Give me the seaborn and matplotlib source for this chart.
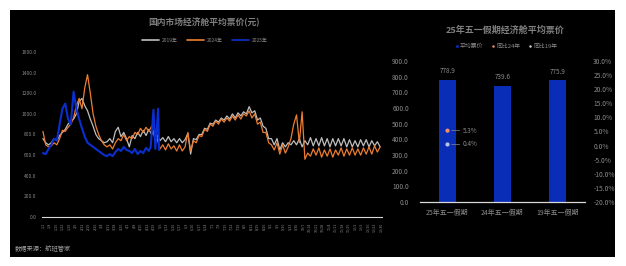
import numpy as np
import pandas as pd
import matplotlib
matplotlib.use('Agg')
import matplotlib.pyplot as plt
import seaborn as sns
from matplotlib.patches import Rectangle, Patch
from matplotlib.lines import Line2D

# ---------------- data ----------------
days = list(range(0, 366, 3))  # day of year, every 3 days

price_2019 = [760, 720, 700, 720, 760, 740, 790, 820, 850, 900,
              930, 950, 1000, 1120, 1150, 1080, 1030, 950, 880, 800,
              760, 740, 720, 730, 760, 720, 830, 870, 780, 820,
              760, 680, 790, 760, 820, 780, 840, 790, 850, 800,
              840, 790, 740, 770, 730, 780, 730, 760, 720, 760,
              720, 750, 810, 610, 760, 750, 800, 800, 860, 850,
              910, 900, 940, 920, 960, 940, 980, 950, 1000, 960,
              1010, 980, 1020, 1000, 1070, 1010, 1030, 940, 960, 880,
              860, 760, 760, 700, 760, 650, 720, 680, 720, 700,
              740, 700, 760, 680, 740, 700, 770, 690, 760, 690,
              770, 690, 760, 680, 760, 690, 760, 690, 760, 680,
              750, 680, 740, 680, 750, 690, 750, 680, 740, 690,
              730, 680]

price_2024 = [830, 700, 680, 690, 720, 700, 760, 840, 830, 870,
              900, 960, 1080, 1150, 1050, 1250, 1380, 1200, 1000, 880,
              800, 740, 700, 680, 700, 660, 720, 760, 740, 800,
              740, 780, 760, 820, 800, 860, 820, 870, 830, 880,
              780, 760, 660, 700, 650, 710, 660, 690, 640, 700,
              640, 680, 820, 640, 740, 720, 790, 780, 850, 830,
              900, 880, 930, 900, 950, 920, 960, 930, 980, 940,
              990, 950, 1000, 980, 1030, 960, 1000, 900, 920, 820,
              820, 720, 700, 650, 720, 610, 700, 620, 680, 760,
              900, 990, 720, 1020, 560, 620, 590, 660, 600, 670,
              580, 650, 590, 660, 580, 650, 600, 670, 590, 660,
              600, 670, 600, 660, 600, 670, 610, 680, 610, 690,
              630, 680]

days_2025 = [0, 3, 6, 9, 12, 15, 18, 21, 24, 27, 30, 33, 36, 39, 42, 45, 48, 51,
             54, 57, 60, 63, 66, 69, 72, 75, 78, 81, 84, 87, 90, 93, 96, 99, 102,
             105, 108, 111, 114, 116, 119, 121, 124, 125]
price_2025 = [620, 610, 660, 700, 760, 740, 900, 1050, 1100, 950, 900, 1215, 1050,
              950, 860, 780, 720, 700, 680, 660, 640, 620, 600, 590, 610, 590, 630,
              660, 640, 680, 650, 640, 620, 660, 610, 640, 620, 670, 640, 680, 1040,
              660, 1050, 650]

tick_dates = pd.date_range('2024-01-01', periods=53, freq='7D')
tick_labels = [f"{d.month}/{d.day}" for d in tick_dates]
tick_days = list(range(0, 365, 7))

categories = ['25年五一假期', '24年五一假期', '19年五一假期']
avg_price = [778.9, 739.6, 775.9]
yoy_24 = 5.3
yoy_19 = 0.4

# ---------------- style ----------------
sns.set_theme(style='white')
plt.rcParams['font.family'] = ['Noto Sans CJK SC', 'DejaVu Sans']
plt.rcParams['axes.unicode_minus'] = False

C_GRAY_LINE = '#BFBFBF'
C_ORANGE = '#ED7D31'
C_BLUE = '#0A2FD0'
C_BAR = '#0A2DB8'
C_TEXT = '#8A8A8A'
C_AXIS = '#D9D9D9'

W, H = 626, 266
fig = plt.figure(figsize=(W / 100, H / 100), dpi=100)
fig.patch.set_facecolor('white')
fig.add_artist(Rectangle((10 / W, 9 / H), 605 / W, 247 / H, transform=fig.transFigure,
                         facecolor='black', edgecolor='none', zorder=-10))

# ---------------- left chart ----------------
ax1 = fig.add_axes([42 / W, 49 / H, 340 / W, 165 / H])
ax1.set_facecolor('none')
df19 = pd.DataFrame({'day': days, 'price': price_2019})
df24 = pd.DataFrame({'day': days, 'price': price_2024})
df25 = pd.DataFrame({'day': days_2025, 'price': price_2025})
sns.lineplot(data=df19, x='day', y='price', color=C_GRAY_LINE, linewidth=0.9, ax=ax1)
sns.lineplot(data=df24, x='day', y='price', color=C_ORANGE, linewidth=0.9, ax=ax1)
sns.lineplot(data=df25, x='day', y='price', color=C_BLUE, linewidth=1.5, ax=ax1)
ax1.set_xlim(-1, 365)
ax1.set_ylim(0, 1600)
ax1.set_xlabel('')
ax1.set_ylabel('')
ax1.set_yticks(range(0, 1601, 200))
ax1.set_yticklabels([f"{v:.1f}" for v in range(0, 1601, 200)], fontsize=3.5, color=C_TEXT)
ax1.set_xticks(tick_days)
ax1.set_xticklabels(tick_labels, rotation=90, fontsize=2.6, color=C_TEXT)
ax1.tick_params(axis='y', length=0, pad=4)
ax1.tick_params(axis='x', length=2, width=0.5, color=C_AXIS, pad=2, direction='out')
for s in ['top', 'left', 'right']:
    ax1.spines[s].set_visible(False)
ax1.spines['bottom'].set_color(C_AXIS)
ax1.spines['bottom'].set_linewidth(0.8)
ax1.grid(False)

fig.text(204 / W, 1 - 22 / H, '国内市场经济舱平均票价(元)', ha='center', va='center',
         fontsize=6.3, color='#7F7F7F', fontweight='bold')
h1 = [Line2D([0], [0], color=C_GRAY_LINE, lw=1.2),
      Line2D([0], [0], color=C_ORANGE, lw=1.2),
      Line2D([0], [0], color=C_BLUE, lw=1.2)]
ax1.legend(h1, ['2019年', '2024年', '2025年'], loc='center',
           bbox_to_anchor=(205 / W, 1 - 40 / H), bbox_transform=fig.transFigure,
           ncol=3, frameon=False, fontsize=3.5, labelcolor=C_TEXT,
           handlelength=3.5, columnspacing=2.0, handletextpad=0.5)

fig.text(15 / W, 1 - 249 / H, '数据来源：航班管家', ha='left', va='center',
         fontsize=4.5, color='#A0A0A0')

# ---------------- right chart ----------------
ax2 = fig.add_axes([420 / W, 64 / H, 165 / W, 141 / H])
ax2.set_facecolor('none')
sns.barplot(x=categories, y=avg_price, color=C_BAR, saturation=1, width=0.31,
            edgecolor='none', linewidth=0, ax=ax2)
ax2.set_xlim(-0.5, 2.5)
ax2.set_ylim(0, 900)
ax2.set_yticks(range(0, 901, 100))
ax2.set_yticklabels([f"{v:.1f}" for v in range(0, 901, 100)], fontsize=4.8, color=C_TEXT)
ax2.tick_params(axis='y', length=0, pad=8)
ax2.tick_params(axis='x', length=0, pad=5, labelsize=5.0, labelcolor=C_TEXT)
for s in ['top', 'left', 'right']:
    ax2.spines[s].set_visible(False)
ax2.spines['bottom'].set_color(C_AXIS)
ax2.spines['bottom'].set_linewidth(0.9)
ax2.grid(False)
for i, v in enumerate(avg_price):
    ax2.text(i, v + 30, f"{v:.1f}", ha='center', va='bottom', fontsize=4.6, color=C_TEXT)

ax3 = ax2.twinx()
ax3.set_facecolor('none')
ax3.set_ylim(-20, 30)
sns.scatterplot(x=[0], y=[yoy_24], color='#F0906A', s=9, edgecolor='none', ax=ax3, zorder=5)
sns.scatterplot(x=[0], y=[yoy_19], color='#B8C4E4', s=9, edgecolor='none', ax=ax3, zorder=5)
for yv in [yoy_24, yoy_19]:
    ax3.annotate(f"{yv:.1f}%", xy=(0.05, yv), xytext=(0.28, yv), fontsize=4.6,
                 color=C_TEXT, va='center', ha='left',
                 arrowprops=dict(arrowstyle='-', color=C_TEXT, lw=0.5,
                                 shrinkA=0, shrinkB=1))
ax3.set_yticks(range(-20, 31, 5))
ax3.set_yticklabels([f"{v:.1f}%" for v in range(-20, 31, 5)], fontsize=4.8, color=C_TEXT)
ax3.tick_params(axis='y', length=0, pad=6)
ax3.set_ylabel('')
for s in ['top', 'left', 'right', 'bottom']:
    ax3.spines[s].set_visible(False)
ax3.grid(False)
ax2.set_xlim(-0.5, 2.5)

fig.text(505 / W, 1 - 30 / H, '25年五一假期经济舱平均票价', ha='center', va='center',
         fontsize=6.5, color='#7F7F7F', fontweight='bold')
h2 = [Line2D([0], [0], marker='s', color='none', markerfacecolor=C_BAR, markersize=2.6),
      Line2D([0], [0], marker='o', color='none', markerfacecolor='#F0906A', markersize=2.8),
      Line2D([0], [0], marker='o', color='none', markerfacecolor='#D0D0D0', markersize=2.8)]
ax2.legend(h2, ['平均票价', '同比24年', '同比19年'], loc='center',
           bbox_to_anchor=(506 / W, 1 - 46 / H), bbox_transform=fig.transFigure,
           ncol=3, frameon=False, fontsize=4.2, labelcolor=C_TEXT,
           handlelength=0.8, columnspacing=1.2, handletextpad=0.2)

fig.savefig('out.png', dpi=100, facecolor='white')
